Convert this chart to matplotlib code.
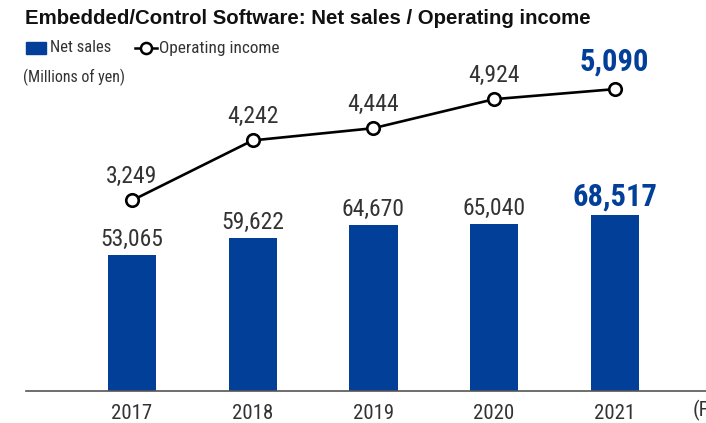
import matplotlib
matplotlib.use("Agg")
import matplotlib.pyplot as plt
from matplotlib.lines import Line2D
from matplotlib.patches import Rectangle

plt.rcParams["font.family"] = ["Roboto Condensed", "DejaVu Sans"]

years = ["2017", "2018", "2019", "2020", "2021"]
net_sales = [53065, 59622, 64670, 65040, 68517]
operating_income = [3249, 4242, 4444, 4924, 5090]

BLUE = "#023f99"
DARK = "#333333"
W, H = 706, 423

fig = plt.figure(figsize=(W / 100, H / 100), dpi=100)
# axes spans pixel x 26..706, y 30..391
ax = fig.add_axes([26 / W, 32 / H, 680 / W, 361 / H])
ax2 = ax.twinx()

x = list(range(len(years)))
ax.bar(x, net_sales, width=0.40, color=BLUE, zorder=2)
ax.set_ylim(0, 140800)
ax.set_xlim(-0.878, 4.756)

ax2.plot(x, operating_income, color="black", lw=1.9, marker="o", ms=9,
         mfc="white", mec="black", mew=1.9, zorder=3)
ax2.set_ylim(98, 6068)

for a in (ax, ax2):
    for s in a.spines.values():
        s.set_visible(False)
    a.set_yticks([])
ax.spines["bottom"].set_visible(True)
ax.spines["bottom"].set_color("#555555")
ax.spines["bottom"].set_linewidth(1.2)

ax.set_xticks(x)
ax.set_xticklabels(years, fontsize=15, color=DARK)
ax.tick_params(axis="x", length=0, pad=9)
ax.text(4.648, -0.025, "(FY)", transform=ax.get_xaxis_transform(), fontsize=15,
        color=DARK, ha="left", va="top")

last = len(years) - 1
for i, v in enumerate(net_sales):
    bold = i == last
    ax.annotate(f"{v:,}", (i, v), xytext=(0, 3), textcoords="offset points",
                ha="center", va="bottom",
                fontsize=22 if bold else 17,
                fontweight="bold" if bold else "normal",
                color=BLUE if bold else DARK)
for i, v in enumerate(operating_income):
    bold = i == last
    ax2.annotate(f"{v:,}", (i, v), xytext=(0, 9), textcoords="offset points",
                 ha="center", va="bottom",
                 fontsize=22 if bold else 17,
                 fontweight="bold" if bold else "normal",
                 color=BLUE if bold else DARK)

fig.text(25 / W, 1 - 19 / H, "Embedded/Control Software: Net sales / Operating income",
         fontsize=14.7, fontweight="bold", family=["Liberation Sans", "DejaVu Sans"],
         color="#111111", va="center", ha="left")

# legend, drawn by hand in pixel positions
fig.patches.append(Rectangle((26 / W, 1 - 54 / H), 20 / W, 12 / H, color=BLUE,
                             transform=fig.transFigure))
fig.text(50 / W, 1 - 48 / H, "Net sales", fontsize=12, color=DARK, va="center")
fig.add_artist(Line2D([135 / W, 157 / W], [1 - 48 / H, 1 - 48 / H], color="black", lw=1.8,
                      transform=fig.transFigure))
fig.add_artist(Line2D([146 / W], [1 - 48 / H], marker="o", ms=8, mfc="white", mec="black",
                      mew=1.8, transform=fig.transFigure))
fig.text(159 / W, 1 - 48 / H, "Operating income", fontsize=12.4, color=DARK, va="center")
fig.text(23 / W, 1 - 77 / H, "(Millions of yen)", fontsize=11.5, color=DARK,
         va="center", ha="left")

fig.savefig("out.png", dpi=100)
